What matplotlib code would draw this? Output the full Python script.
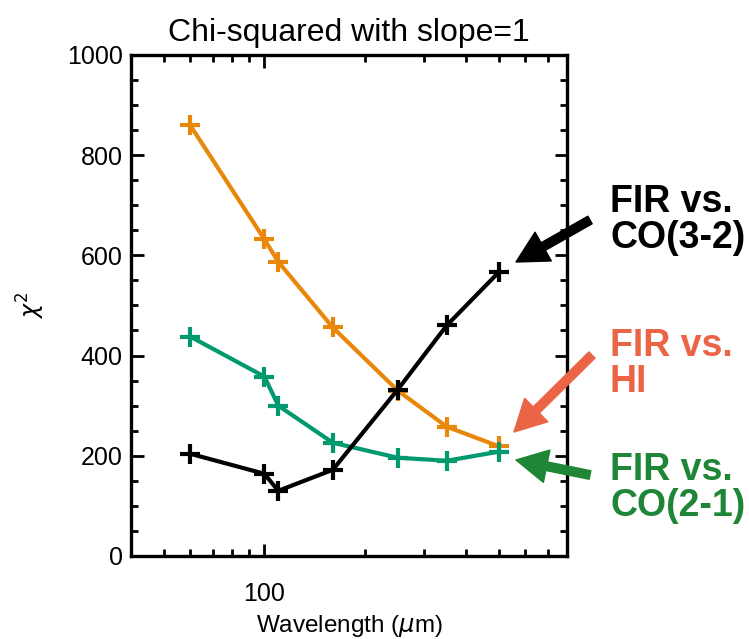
import matplotlib
matplotlib.use("Agg")
import matplotlib.pyplot as plt
from matplotlib.ticker import FixedLocator, NullFormatter

# wavelengths (um) and chi-squared values per comparison
wavelength = [60, 100, 110, 160, 250, 350, 500]
chi2_co32 = [204, 164, 130, 172, 332, 460, 566]
chi2_hi = [860, 632, 587, 456, 330, 258, 219]
chi2_co21 = [438, 358, 300, 226, 196, 190, 208]

labels = ["FIR vs.\nCO(3-2)", "FIR vs.\nHI", "FIR vs.\nCO(2-1)"]
minor_x = [50, 60, 70, 80, 90, 200, 300, 400, 500, 600, 700]

plt.rcParams.update({"font.family": ["Liberation Sans", "DejaVu Sans"],
                     "mathtext.fontset": "dejavusans"})

fig = plt.figure(figsize=(7.49, 6.39), dpi=100)
ax = fig.add_axes([0.175, 0.130, 0.582, 0.784])

ms, mew, lw = 14, 3, 3
ax.plot(wavelength, chi2_hi, color="#E8870A", lw=lw, marker="+", ms=ms, mew=mew)
ax.plot(wavelength, chi2_co21, color="#009970", lw=lw, marker="+", ms=ms, mew=mew)
ax.plot(wavelength, chi2_co32, color="black", lw=lw, marker="+", ms=ms, mew=mew)

ax.set_xscale("log")
ax.set_xlim(40, 800)
ax.set_ylim(0, 1000)
ax.xaxis.set_major_locator(FixedLocator([100]))
ax.xaxis.set_minor_locator(FixedLocator(minor_x))
ax.xaxis.set_minor_formatter(NullFormatter())
ax.set_xticklabels(["100"])
ax.set_yticks(range(0, 1001, 200))
ax.set_yticks(range(0, 1001, 50), minor=True)

for s in ax.spines.values():
    s.set_linewidth(2.4)
ax.tick_params(which="both", direction="in", top=True, right=True, width=2, labelsize=18)
ax.tick_params(which="major", length=9)
ax.tick_params(which="minor", length=5)
ax.tick_params(axis="x", pad=19)
ax.tick_params(axis="y", pad=6)

ax.set_xlabel(r"Wavelength ($\mu$m)", fontsize=17.5, labelpad=5)
ax.set_ylabel(r"$\chi^2$", fontsize=17, labelpad=14)
ax.set_title("Chi-squared with slope=1", fontsize=23, pad=10)

# callout labels with arrows (figure pixel positions, origin top-left)
H = 639
callouts = [
    (labels[0], "black", 220, (590, 220), (516, 262)),
    (labels[1], "#EC6446", 364, (592, 355), (514, 432)),
    (labels[2], "#1E8636", 488, (590, 475), (516, 460)),
]
for text, color, ycen, tail, tip in callouts:
    fig.text(610 / 749, (H - ycen) / H, text, color=color, fontsize=27,
             fontweight="bold", ha="left", va="center", linespacing=1.02)
    ax.annotate("", xy=(tip[0] / 749, (H - tip[1]) / H), xycoords="figure fraction",
                xytext=(tail[0] / 749, (H - tail[1]) / H), textcoords="figure fraction",
                arrowprops=dict(arrowstyle="simple,head_length=0.9,head_width=0.95,tail_width=0.25",
                                mutation_scale=25, color=color, shrinkA=0, shrinkB=0),
                annotation_clip=False)

fig.savefig("out.png", dpi=100)
